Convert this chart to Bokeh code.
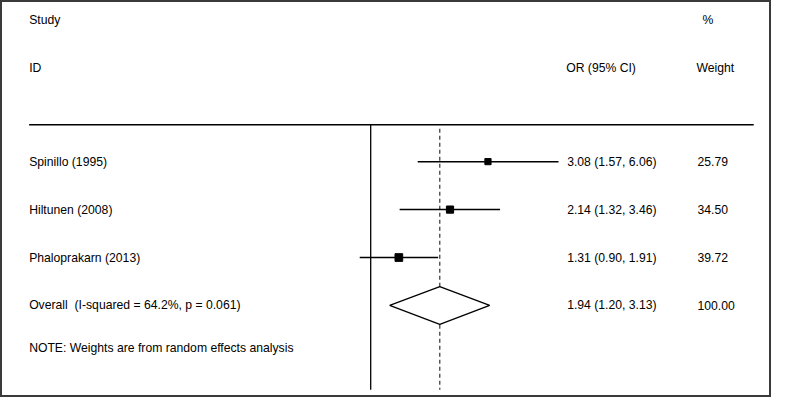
import math
from bokeh.plotting import figure
from bokeh.models import Range1d, ColumnDataSource
from bokeh.core.properties import value
from bokeh.embed import file_html
from bokeh.resources import INLINE

# ---------------- data ----------------
studies = ["Spinillo (1995)", "Hiltunen (2008)", "Phaloprakarn (2013)"]
or_est = [3.08, 2.14, 1.31]
ci_low = [1.57, 1.32, 0.90]
ci_high = [6.06, 3.46, 1.91]
weights = [25.79, 34.50, 39.72]
overall_est = 1.94
overall_low = 1.20
overall_high = 3.13
overall_weight = 100.00
i_squared = 64.2
p_het = 0.061
note = "NOTE: Weights are from random effects analysis"

# ---------------- layout helpers (reference pixel space) ----------------
X0 = 376.0      # pixel of OR = 1
PX_PER_LN = 105.6
def px2x(px):
    return math.exp((px - X0) / PX_PER_LN)

FONT = value("Liberation Sans")
FS = "12.2px"

ROW0 = 167.0
ROW_STEP = 49.4
row_y = [ROW0 + i * ROW_STEP for i in range(len(studies))]
overall_y = ROW0 + len(studies) * ROW_STEP
note_y = 359
line_y = 129
bottom_y = 402

p = figure(width=771, height=397, output_backend="svg", toolbar_location=None,
           x_axis_type="log",
           x_range=Range1d(px2x(1), px2x(782)), y_range=Range1d(410, 1),
           min_border=0)
p.xaxis.visible = False
p.yaxis.visible = False
p.xgrid.visible = False
p.ygrid.visible = False
p.outline_line_color = "#3a3a3a"
p.outline_line_width = 3
p.background_fill_color = "white"

# header rule
p.segment(x0=[px2x(30)], y0=[line_y], x1=[px2x(764)], y1=[line_y],
          line_color="black", line_width=1.3)
# null line (OR = 1)
p.segment(x0=[1.0], y0=[line_y], x1=[1.0], y1=[bottom_y], line_color="black", line_width=1.3)
# overall dashed line
p.segment(x0=[overall_est], y0=[line_y + 4], x1=[overall_est], y1=[bottom_y],
          line_color="#333333", line_width=1.2, line_dash="4 3")

# CIs
src = ColumnDataSource(dict(y=row_y, est=or_est, lo=ci_low, hi=ci_high,
                            size=[1.22 * math.sqrt(w) for w in weights]))
p.segment(x0="lo", y0="y", x1="hi", y1="y", source=src, line_color="black", line_width=1.5)
p.scatter(x="est", y="y", size="size", marker="square", source=src,
          fill_color="black", line_color="black")

# overall diamond
dh = 19.5
p.patch(x=[overall_low, overall_est, overall_high, overall_est],
        y=[overall_y, overall_y - dh, overall_y, overall_y + dh],
        fill_color="white", line_color="black", line_width=1.3)

# texts
def txt(xpx, ys, labels, align="left"):
    p.text(x=[px2x(xpx)] * len(ys), y=ys, text=labels, text_font=FONT,
           text_font_size=FS, text_baseline="middle", text_align=align, text_color="black")

txt(30, [21, 71], ["Study", "ID"])
txt(574, [71], ["OR (95% CI)"])
txt(712, [21], ["%"])
txt(706, [71], ["Weight"])

left_labels = studies + [f"Overall\u00a0 (I-squared = {i_squared:.1f}%, p = {p_het:.3f})"]
txt(30, row_y + [overall_y], left_labels)
or_labels = [f"{e:.2f} ({l:.2f}, {h:.2f})" for e, l, h in zip(or_est, ci_low, ci_high)]
or_labels.append(f"{overall_est:.2f} ({overall_low:.2f}, {overall_high:.2f})")
txt(575, row_y + [overall_y], or_labels)
w_labels = [f"{w:.2f}" for w in weights] + [f"{overall_weight:.2f}"]
txt(707, row_y + [overall_y], w_labels)
txt(30, [note_y], [note])

open("out.html", "w").write(file_html(p, INLINE))
